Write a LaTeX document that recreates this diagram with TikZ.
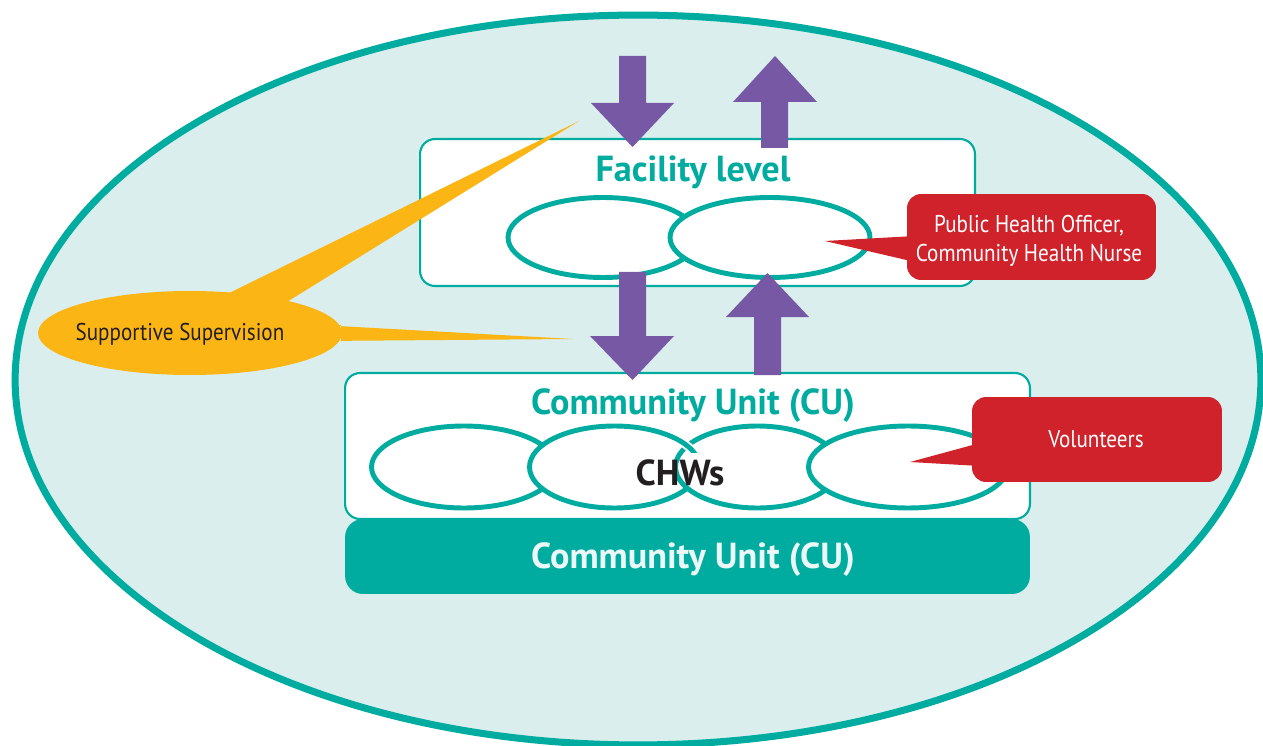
\documentclass[tikz,border=0pt]{standalone}
\usepackage{fontspec}
\setmainfont{PT Sans}
\newfontfamily\narrowfont[FakeStretch=0.87]{PT Sans}
\usetikzlibrary{shapes.geometric}
\definecolor{cteal}{HTML}{00AC9F}
\definecolor{cbg}{HTML}{DAEEED}
\definecolor{cpurple}{HTML}{7758A5}
\definecolor{cred}{HTML}{D0222A}
\definecolor{cyellow}{HTML}{FBB615}
\definecolor{cblack}{HTML}{231F20}
\begin{document}
\begin{tikzpicture}[x=0.02cm,y=-0.02cm,
  panel/.style={draw=cteal,line width=1.2pt,fill=white,rounded corners=0.3cm,inner sep=0pt},
  ring/.style={ellipse,draw=cteal,line width=2.8pt,fill=white,inner sep=0pt},
  callout/.style={fill=cred,rounded corners=0.28cm,inner sep=0pt},
  small/.style={inner sep=0pt,anchor=base,font=\narrowfont\fontsize{13.8}{16}\selectfont},
  title/.style={inner sep=0pt,anchor=base,text=cteal,font=\bfseries\fontsize{20.6}{23}\selectfont},
  block/.style={fill=cpurple},
  beam/.style={fill=cyellow},
  tail/.style={fill=cred}]
\useasboundingbox (0,0) rectangle (1263,746);
% outer ellipse
\node[ellipse,draw=cteal,fill=cbg,line width=4pt,inner sep=0pt,minimum width=24.92cm,minimum height=14.6cm] (world) at (638,380) {};
% facility level
\node[panel,minimum width=11.1cm,minimum height=2.94cm] (fac) at (697.5,212.5) {};
\node[title] (factext) at (693,182) {Facility level};
\node[ring,minimum width=3.8cm,minimum height=1.6cm] (f1) at (603,237.5) {};
\node[ring,minimum width=4cm,minimum height=1.6cm] (f2) at (770,237.5) {};
% community unit
\node[panel,minimum width=13.7cm,minimum height=2.92cm] (cu) at (687.5,446) {};
\node[title] (cutext) at (693,414) {Community Unit (CU)};
\node[ring,minimum width=3.7cm,minimum height=1.64cm] (c1) at (464,467) {};
\node[ring,minimum width=3.4cm,minimum height=1.64cm] (c2) at (614.5,467) {};
\node[ring,minimum width=3.28cm,minimum height=1.64cm] (c3) at (757.5,467) {};
\begin{scope}
  \clip (655,415) rectangle (706,452);
  \node[ellipse,draw=white,line width=5pt,inner sep=0pt,minimum width=3.4cm,minimum height=1.64cm] at (614.5,467) {};
  \node[ellipse,draw=cteal,line width=2.8pt,inner sep=0pt,minimum width=3.4cm,minimum height=1.64cm] at (614.5,467) {};
\end{scope}
\node[ring,minimum width=3.98cm,minimum height=1.64cm] (c4) at (908,467) {};
\node[inner sep=0pt,anchor=base,text=cblack,font=\bfseries\fontsize{20.6}{23}\selectfont] (chw) at (680,485) {CHWs};
% bottom bar
\node[fill=cteal,rounded corners=0.36cm,inner sep=0pt,minimum width=13.7cm,minimum height=1.5cm] (bar) at (687.5,556.5) {};
\node[title,text=white!92!cteal] (bartext) at (693,568) {Community Unit (CU)};
% purple arrows
\fill[block] (619,56) -- (646,56) -- (646,103) -- (674,103) -- (632.5,147) -- (591,103) -- (619,103) -- cycle;
\fill[block] (761,148) -- (788,148) -- (788,102) -- (817,102) -- (775,56) -- (733,102) -- (761,102) -- cycle;
\fill[block] (619,272) -- (646,272) -- (646,336) -- (674,336) -- (632.5,380) -- (590,336) -- (619,336) -- cycle;
\fill[block] (754,375) -- (781,375) -- (781,317) -- (809,317) -- (767.5,273) -- (726,317) -- (754,317) -- cycle;
% supportive supervision
\node[ellipse,fill=cyellow,inner sep=0pt,minimum width=6.08cm,minimum height=1.68cm] (sup) at (190,333) {};
\fill[beam] (215,300) -- (579,121) -- (282,305) -- cycle;
\fill[beam] (320,325) -- (573,339) -- (320,341) -- (341,341) -- (341,325) -- cycle;
\node[small,text=cblack] (suptext) at (180,340) {Supportive Supervision};
% red callouts
\node[callout,minimum width=4.98cm,minimum height=1.72cm] (pho) at (1031.5,237) {};
\fill[tail] (915,236) -- (825,241) -- (915,262) -- cycle;
\node[small,text=white] (phot1) at (1029,233) {Public Health Officer,};
\node[small,text=white] (phot2) at (1029,262) {Community Health Nurse};
\node[callout,minimum width=5cm,minimum height=1.7cm] (vol) at (1097,439.5) {};
\fill[tail] (980,443) -- (910,462) -- (980,466) -- cycle;
\node[small,text=white] (voltext) at (1096,447) {Volunteers};
\end{tikzpicture}
\end{document}
